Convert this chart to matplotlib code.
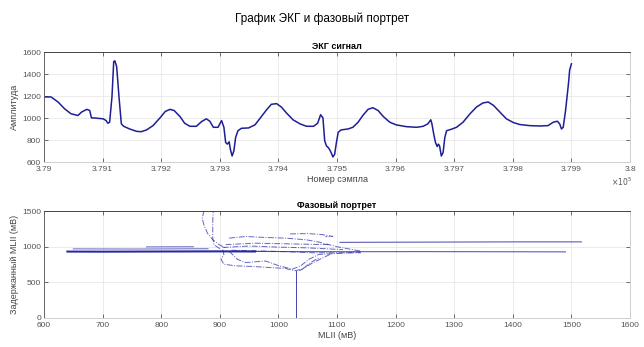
import numpy as np
import matplotlib.pyplot as plt
from matplotlib.ticker import FuncFormatter

plt.rcParams['font.family'] = ['Liberation Sans', 'DejaVu Sans']

# ЭКГ: номер сэмпла (смещение от 379000) и амплитуда
ecg_offset = [0, 12, 24, 35, 46, 58, 64, 73, 78, 81, 89, 101, 106, 109, 112, 116, 119, 121, 124,
              128, 132, 136, 146, 158, 166, 175, 186, 198, 207, 215, 222, 232, 240, 249, 260, 269,
              277, 283, 289, 297, 303, 307, 310, 313, 316, 318, 321, 324, 327, 331, 337, 349, 360,
              368, 380, 388, 397, 405, 414, 425, 437, 448, 460, 467, 472, 476, 479, 482, 485, 487,
              490, 493, 496, 499, 502, 507, 519, 527, 536, 544, 553, 561, 570, 579, 590, 601, 618,
              636, 647, 655, 660, 662, 665, 668, 671, 673, 675, 678, 681, 684, 687, 695, 704, 715,
              727, 738, 749, 758, 767, 778, 789, 801, 812, 829, 846, 860, 869, 876, 880, 883, 886,
              890, 895, 897, 900]
ecg_value = [1192, 1192, 1146, 1085, 1039, 1023, 1054, 1079, 1069, 1002, 999, 993, 977, 953, 962,
             1192, 1514, 1520, 1468, 1192, 947, 925, 901, 879, 876, 892, 931, 1002, 1060, 1079,
             1069, 1014, 953, 925, 925, 968, 993, 971, 916, 916, 977, 916, 778, 763, 784, 717,
             655, 701, 824, 885, 907, 910, 938, 993, 1076, 1125, 1131, 1100, 1045, 984, 947, 925,
             925, 953, 1030, 1002, 793, 747, 732, 717, 686, 646, 671, 778, 870, 892, 901, 916,
             962, 1023, 1079, 1094, 1069, 1014, 962, 938, 922, 916, 925, 947, 984, 947, 855, 778,
             741, 763, 747, 655, 686, 824, 885, 898, 916, 962, 1039, 1100, 1137, 1146, 1115,
             1054, 993, 959, 941, 931, 928, 931, 962, 971, 947, 901, 916, 1069, 1315, 1437, 1493]
ecg_start = 379000

# Фазовый портрет: отрезки (MLII, задержанный MLII)
phase_lines = [
    ([640, 700, 800, 900, 1000, 1100, 1250, 1490], [933, 931, 934, 936, 932, 930, 931, 928]),
    ([650, 760, 880], [970, 968, 972]),
    ([775, 855], [998, 1000]),
    ([1105, 1200, 1300, 1400, 1517], [1062, 1064, 1066, 1068, 1068]),
    ([1030, 1030], [663, 0]),
    ([873, 870, 873, 879, 888, 899, 910], [1509, 1395, 1304, 1189, 1098, 1029, 983]),
    ([889, 888, 888, 890, 902], [1555, 1349, 1121, 1029, 961]),
    ([905, 907, 902, 907, 927, 956, 984, 1012, 1028, 1041, 1055, 1069],
     [961, 892, 823, 755, 732, 723, 709, 695, 663, 686, 778, 846]),
    ([916, 930, 944, 978, 1001, 1024, 1038, 1052, 1069, 1100, 1140],
     [938, 823, 778, 800, 732, 686, 732, 823, 892, 905, 925]),
    ([916, 944, 978, 1012, 1047, 1069, 1100, 1140], [1121, 1144, 1130, 1121, 1098, 1066, 1000, 940]),
    ([1020, 1050, 1075, 1093, 1080], [1180, 1185, 1170, 1145, 1140]),
    ([910, 960, 1020, 1088], [1030, 1050, 1040, 1029]),
    ([905, 950, 1000, 1050, 1110], [990, 1010, 995, 984, 960]),
    ([920, 980, 1059, 1141], [950, 940, 915, 915]),
    ([1088, 1060, 1036], [892, 780, 663]),
]
# более плотная часть главной линии
dense_x = [640, 700, 800, 900, 960]
dense_y = [932, 931, 933, 935, 933]

fig = plt.figure(figsize=(6.44, 3.47), dpi=100)
fig.text(0.5, 0.945, 'График ЭКГ и фазовый портрет', ha='center', va='center', fontsize=8.5)

def style(ax):
    ax.grid(True, color='#e8e8e8', linewidth=0.6)
    ax.set_axisbelow(True)
    ax.tick_params(direction='in', length=3, width=0.6, labelsize=6, colors='#555555',
                   top=True, right=True, pad=2)
    ax.tick_params(axis='x', pad=3)
    ax.spines['top'].set_color('#444444')
    ax.spines['left'].set_color('#666666')
    ax.spines['bottom'].set_color('#d0d0d0')
    ax.spines['right'].set_color('#d0d0d0')
    for s in ax.spines.values():
        s.set_linewidth(0.7)

ax1 = fig.add_axes([0.0683, 0.533, 0.910, 0.317])
x = [ecg_start + o for o in ecg_offset]
ax1.plot(x, ecg_value, color='#1e1e96', linewidth=1.1)
ax1.set_xlim(379000, 380000)
ax1.set_ylim(600, 1600)
ax1.set_xticks(np.arange(379000, 380001, 100))
ax1.set_yticks([600, 800, 1000, 1200, 1400, 1600])
ax1.xaxis.set_major_formatter(FuncFormatter(lambda v, p: '%g' % round(v / 1e5, 4)))
style(ax1)
ax1.set_title('ЭКГ сигнал', fontsize=6.5, fontweight='bold', pad=2)
ax1.set_xlabel('Номер сэмпла', fontsize=6.5, color='#444444', labelpad=1)
ax1.set_ylabel('Амплитуда', fontsize=6.5, color='#444444', labelpad=2)
ax1.text(0.968, -0.18, r'$\times10^5$', transform=ax1.transAxes, fontsize=5.5,
         color='#555555', ha='left', va='center')

ax2 = fig.add_axes([0.0683, 0.0836, 0.910, 0.308])
for i, (px, py) in enumerate(phase_lines):
    ls = '-' if i < 5 else (0, (6, 1.5, 1, 1.5))
    ax2.plot(px, py, color='#2323a0', linewidth=0.7, linestyle=ls,
             alpha=0.85 if i in (0, 3, 4) else 0.7)
ax2.plot(dense_x, dense_y, color='#1e1e9a', linewidth=1.6, alpha=0.8)
ax2.set_xlim(600, 1600)
ax2.set_ylim(0, 1500)
ax2.set_xticks(np.arange(600, 1601, 100))
ax2.set_yticks([0, 500, 1000, 1500])
style(ax2)
ax2.set_title('Фазовый портрет', fontsize=6.5, fontweight='bold', pad=2)
ax2.set_xlabel('MLII (мВ)', fontsize=6.5, color='#444444', labelpad=1)
ax2.set_ylabel('Задержанный MLII (мВ)', fontsize=6.5, color='#444444', labelpad=2)

fig.savefig('out.png', dpi=100)
